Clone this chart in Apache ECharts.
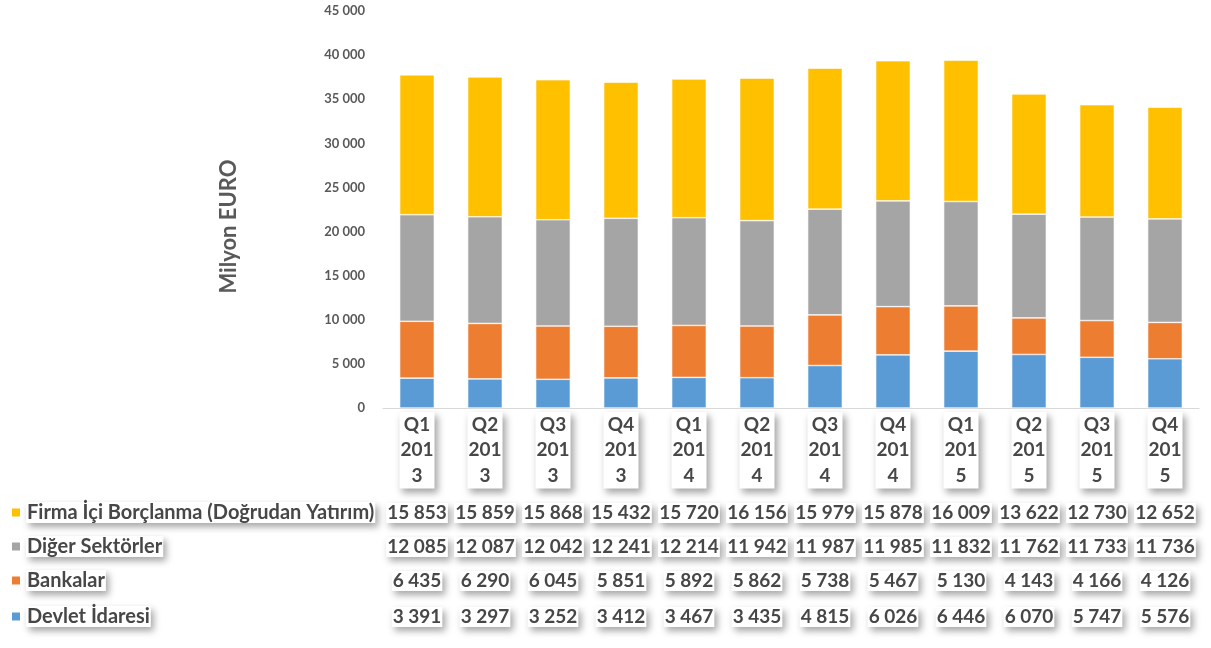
<!DOCTYPE html>
<html><head><meta charset="utf-8">
<script src="https://cdn.jsdelivr.net/npm/echarts@6/dist/echarts.min.js"></script>
<style>html,body{margin:0;padding:0;background:#fff}#c{width:1211px;height:648px}</style>
</head><body><div id="c"></div>
<script>
const categories = ["Q1 2013","Q2 2013","Q3 2013","Q4 2013","Q1 2014","Q2 2014","Q3 2014","Q4 2014","Q1 2015","Q2 2015","Q3 2015","Q4 2015"];
const firma = [15853,15859,15868,15432,15720,16156,15979,15878,16009,13622,12730,12652];
const diger = [12085,12087,12042,12241,12214,11942,11987,11985,11832,11762,11733,11736];
const bankalar = [6435,6290,6045,5851,5892,5862,5738,5467,5130,4143,4166,4126];
const devlet = [3391,3297,3252,3412,3467,3435,4815,6026,6446,6070,5747,5576];
const yTicks = [0,5000,10000,15000,20000,25000,30000,35000,40000,45000];
const names = ["Firma İçi Borçlanma (Doğrudan Yatırım)","Diğer Sektörler","Bankalar","Devlet İdaresi"];
const colors = ["#FFC000","#A5A5A5","#ED7D31","#5B9BD5"];
const rows = [firma, diger, bankalar, devlet];

const FONT = "Lato";
const TXT = "#474747";
const fmt = v => String(v).replace(/\B(?=(\d{3})+(?!\d))/g, " ");
const boxStyle = {
  backgroundColor: "#fff",
  shadowColor: "rgba(0,0,0,0.35)",
  shadowBlur: 7,
  shadowOffsetX: 3,
  shadowOffsetY: 4,
  padding: [0, 1]
};
const rowCenters = [513, 547, 581, 617];
const axisY = 408;

const xAxes = [{
  type: "category", data: categories, gridIndex: 0,
  axisLine: { lineStyle: { color: "#d9d9d9", width: 1 } },
  axisTick: { show: false },
  axisLabel: Object.assign({
    interval: 0, margin: 4, fontFamily: FONT, fontWeight: "bold", fontSize: 19,
    color: TXT, lineHeight: 25.5,
    formatter: v => { const p = v.split(" "); return p[0] + "\n" + p[1].slice(0, 3) + "\n" + p[1].slice(3); }
  }, boxStyle)
}];
rows.forEach((arr, r) => {
  xAxes.push({
    type: "category", data: categories, gridIndex: 0, position: "bottom",
    offset: rowCenters[r] - axisY - 10,
    axisLine: { show: false }, axisTick: { show: false },
    axisLabel: Object.assign({
      interval: 0, margin: 0, fontFamily: FONT, fontWeight: "bold", fontSize: 19,
      color: TXT, lineHeight: 20,
      formatter: (v, i) => fmt(arr[i])
    }, boxStyle)
  });
});

const legends = names.map((n, r) => ({
  data: [n], left: 10, top: rowCenters[r] - 11, orient: "horizontal", padding: 0,
  icon: "rect", itemWidth: 10, itemHeight: 10, itemGap: 5, selectedMode: false,
  textStyle: Object.assign({ fontFamily: FONT, fontWeight: "bold", fontSize: 20, color: TXT, lineHeight: 21 }, boxStyle)
}));

const stackOrder = [3, 2, 1, 0]; // bottom to top
const series = stackOrder.map(r => ({
  name: names[r], type: "bar", stack: "total", data: rows[r],
  barWidth: "51%",
  itemStyle: { color: colors[r], borderColor: "#fff", borderWidth: 0.6 },
  emphasis: { disabled: true }
}));

const chart = echarts.init(document.getElementById("c"));
chart.setOption({
  animation: false,
  color: colors,
  grid: { left: 383, right: 12, top: 11, bottom: 240, containLabel: false },
  legend: legends,
  xAxis: xAxes,
  yAxis: {
    type: "value", min: yTicks[0], max: yTicks[yTicks.length - 1], interval: 5000,
    name: "Milyon EURO", nameLocation: "middle", nameRotate: 90, nameGap: 143,
    nameTextStyle: { fontFamily: FONT, fontWeight: "bold", fontSize: 22, color: "#595959", padding: [0, 34, 0, 0] },
    axisLine: { show: false }, axisTick: { show: false }, splitLine: { show: false },
    axisLabel: { margin: 18, fontFamily: FONT, fontWeight: "bold", fontSize: 13, color: "#595959", formatter: v => fmt(v) }
  },
  series: series
});
</script></body></html>
